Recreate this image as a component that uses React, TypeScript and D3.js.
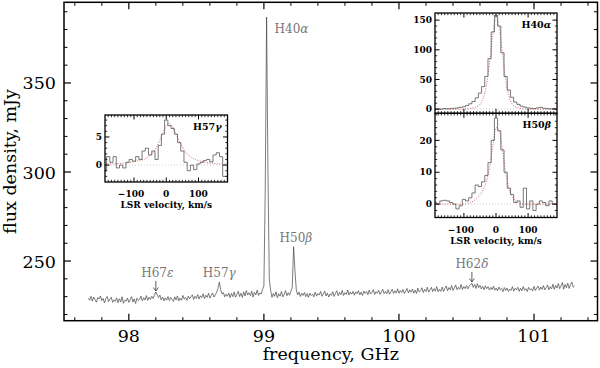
import React from "react";
import * as d3 from "d3";

// main spectrum: flux density (mJy) per 0.01 GHz channel starting at 97.70 GHz
const spectrumStart = 97.7;
const spectrumStep = 0.01;
const spectrumFlux = [
  229.1, 228.0, 230.2, 227.5, 229.8, 228.3, 226.9, 229.5, 228.7, 230.4, 227.8, 229.0, 226.5, 228.9, 230.1, 227.2, 228.6, 229.7, 226.8, 228.2,
  227.4, 229.3, 226.6, 228.8, 227.1, 229.9, 226.3, 228.0, 227.5, 229.2, 226.8, 228.4, 230.0, 227.0, 228.7, 226.2, 229.1, 227.9, 228.5, 230.3,
  227.6, 229.4, 228.1, 230.6, 227.9, 229.7, 228.4, 230.2, 229.0, 230.8, 232.6, 231.0, 229.5, 230.9, 228.2, 229.8, 227.6, 229.3, 228.0, 230.1,
  227.8, 229.6, 228.5, 227.3, 229.9, 228.1, 230.4, 227.6, 229.2, 228.0, 230.7, 228.6, 229.5, 227.9, 230.3, 228.8, 229.9, 231.0, 228.4, 230.2,
  229.0, 231.2, 228.7, 230.5, 229.4, 231.6, 228.9, 230.8, 229.6, 231.9, 229.2, 230.6, 232.1, 229.8, 231.0, 232.4, 234.6, 238.2, 233.9, 231.5,
  232.3, 229.9, 231.4, 230.2, 232.0, 229.5, 231.8, 230.0, 232.6, 229.7, 231.3, 233.0, 230.1, 231.9, 229.6, 232.7, 230.4, 233.4, 230.9, 232.2,
  230.6, 233.1, 229.8, 232.4, 231.0, 233.6, 230.7, 232.1, 231.5, 234.0, 236.0, 290.0, 387.0, 300.0, 240.0, 233.5, 229.6, 231.8, 230.2, 232.7,
  229.4, 231.6, 230.3, 232.9, 229.9, 231.2, 233.4, 230.5, 232.2, 230.8, 233.0, 235.1, 258.0, 244.5, 233.8, 231.0, 232.6, 230.1, 231.9, 230.7,
  232.3, 230.0, 231.7, 229.6, 232.0, 230.6, 231.4, 229.9, 232.5, 230.3, 231.8, 230.9, 232.9, 230.2, 231.5, 233.1, 230.4, 232.0, 229.8, 231.6,
  230.7, 232.8, 230.1, 231.9, 233.3, 230.5, 232.4, 231.0, 233.5, 230.6, 232.2, 231.3, 233.8, 230.9, 232.6, 231.4, 233.0, 230.8, 232.7, 231.6,
  233.4, 231.0, 232.5, 230.7, 233.2, 231.8, 232.9, 231.1, 233.7, 231.5, 232.3, 234.0, 231.2, 232.8, 231.9, 233.6, 231.3, 232.6, 234.1, 231.7,
  233.0, 231.6, 233.9, 231.4, 232.7, 234.2, 231.8, 233.3, 232.0, 234.4, 231.9, 233.5, 232.3, 234.0, 231.7, 233.2, 234.6, 232.1, 233.8, 232.5,
  234.3, 232.0, 233.6, 231.8, 234.8, 232.6, 233.4, 235.0, 232.3, 234.1, 232.9, 235.3, 232.5, 233.9, 235.2, 232.8, 234.5, 233.1, 235.6, 232.7,
  234.2, 233.0, 235.4, 232.9, 234.7, 236.0, 233.3, 235.1, 233.8, 236.3, 233.5, 234.9, 236.6, 233.9, 235.3, 234.2, 236.8, 234.0, 235.7, 234.5,
  236.2, 234.4, 235.9, 236.8, 237.6, 235.2, 236.9, 234.6, 237.3, 235.0, 236.4, 234.3, 235.8, 233.9, 236.1, 234.5, 235.6, 233.7, 235.2, 234.0,
  235.9, 233.6, 234.8, 233.2, 235.4, 233.9, 234.6, 232.8, 235.1, 233.4, 234.9, 232.9, 234.3, 233.5, 235.6, 233.1, 234.7, 233.8, 235.3, 233.0,
  234.8, 233.3, 235.7, 233.6, 234.5, 232.9, 235.2, 233.9, 234.4, 233.2, 235.8, 233.5, 234.9, 236.0, 233.7, 235.4, 234.1, 236.2, 233.8, 235.0,
  236.5, 233.9, 235.6, 234.3, 237.0, 234.1, 236.3, 234.8, 237.4, 234.5, 236.1, 238.0, 234.2, 236.9, 235.0, 237.6, 234.6, 236.7, 238.2, 235.3,
  236.0,
];

// recombination lines marked on the spectrum
const lineNames = ["H40", "H50", "H57", "H67", "H62"];
const lineGreek = ["α", "β", "γ", "ε", "δ"];
const lineFreqs = [99.02, 99.22, 98.67, 98.2, 100.54];

// inset profiles, 10 km/s channels from -190 to 190 km/s
const velocities = d3.range(-190, 191, 10);
const h57gObs = [-1.0, 1.5, 0.5, 1.5, -0.5, 0.0, -0.5, 0.5, 1.0, 0.7, 1.5, 1.0, 2.5, 3.0, 1.8, 2.5, 1.0, 3.5, 5.5, 8.0, 7.0, 6.5, 5.5, 4.0, 2.5, 0.5, -1.0, 0.0, -0.8, 0.2, 0.5, 0.8, 1.0, 0.6, 1.8, 2.2, 1.5, -2.0, -2.0];
const h57gModel = [0.2, 0.2, 0.2, 0.25, 0.3, 0.3, 0.35, 0.4, 0.5, 0.6, 0.7, 0.85, 1.0, 1.3, 1.7, 2.3, 3.2, 4.4, 5.8, 7.0, 7.4, 6.8, 5.6, 4.3, 3.2, 2.3, 1.7, 1.3, 1.0, 0.8, 0.65, 0.5, 0.4, 0.35, 0.3, 0.25, 0.2, 0.2, 0.2];
const h40aObs = [0, 0.5, 0, 1, 0.5, 1, 1.5, 2, 3, 4, 6, 9, 13, 19, 27, 38, 55, 85, 130, 158, 140, 95, 55, 32, 20, 12, 8, 5, 3.5, 2, 1.5, 1, 2, 3, 1.5, 1, 0.5, 1, 0.5];
const h40aModel = [0, 0, 0, 0, 0, 0, 0, 0, 0, 0.2, 0.5, 1, 2, 4, 8, 18, 40, 78, 125, 152, 138, 95, 50, 22, 9, 4, 2, 1, 0.5, 0.2, 0, 0, 0, 0, 0, 0, 0, 0, 0];
const h50bObs = [0.5, 0, 1, 1.2, 1, 0.5, 0, -1.5, -0.5, 1.5, 1, 2, 3.5, 6, 5.5, 7, 9, 13, 20, 27, 23, 17, 10, 5, 3, 0.5, 1, -1, 5, -1.5, 1, -2, 0, 1, 0.5, -0.5, 1, 0, 0];
const h50bModel = [0, 0, 0, 0, 0, 0, 0, 0, 0, 0, 0.2, 0.5, 1, 1.8, 3, 4.5, 7, 11.5, 18, 24, 23, 17, 10, 5, 2.5, 1, 0.4, 0.1, 0, 0, 0, 0, 0, 0, 0, 0, 0, 0, 0];

const FONT = "'DejaVu Serif', serif";
const fmt = (v: number) => (v < 0 ? "\u2212" + Math.abs(v) : String(v));

type InsetProps = {
  id: string;
  x0: number; x1: number; y0: number; y1: number;
  yDomain: [number, number];
  yMajor: number[];
  yMinor: number[];
  obs: number[];
  model: number[];
  label: string;
  greek: string;
  showX: boolean;
};

function Inset({ id, x0, x1, y0, y1, yDomain, yMajor, yMinor, obs, model, label, greek, showX }: InsetProps) {
  const vx = d3.scaleLinear().domain([-190, 190]).range([x0, x1]);
  const vy = d3.scaleLinear().domain(yDomain).range([y1, y0]);
  const step = d3.line<number>().x((d, i) => vx(velocities[i])).y(d => vy(d)).curve(d3.curveStep);
  const smooth = d3.line<number>().x((d, i) => vx(velocities[i])).y(d => vy(d)).curve(d3.curveMonotoneX);
  const xMajor = [-100, 0, 100];
  const xMinor = d3.range(-180, 181, 10).filter(v => !xMajor.includes(v));

  return (
    <g>
      <defs>
        <clipPath id={id}>
          <rect x={x0} y={y0} width={x1 - x0} height={y1 - y0} />
        </clipPath>
      </defs>
      <rect x={x0} y={y0} width={x1 - x0} height={y1 - y0} fill="#fff" />
      <g clipPath={`url(#${id})`}>
        <line x1={x0} x2={x1} y1={vy(0)} y2={vy(0)} stroke="#aaa" strokeWidth={0.6} strokeDasharray="1,2" />
        <path d={smooth(model) || ""} fill="none" stroke="#d04040" strokeWidth={0.8} strokeDasharray="1,1.5" />
        <path d={step(obs) || ""} fill="none" stroke="#555" strokeWidth={0.8} />
      </g>
      {xMajor.map(v => (
        <g key={"xM" + v}>
          <line x1={vx(v)} x2={vx(v)} y1={y1} y2={y1 - 4.5} stroke="#000" strokeWidth={1} />
          <line x1={vx(v)} x2={vx(v)} y1={y0} y2={y0 + 4.5} stroke="#000" strokeWidth={1} />
        </g>
      ))}
      {xMinor.map(v => (
        <g key={"xm" + v}>
          <line x1={vx(v)} x2={vx(v)} y1={y1} y2={y1 - 2.2} stroke="#000" strokeWidth={0.8} />
          <line x1={vx(v)} x2={vx(v)} y1={y0} y2={y0 + 2.2} stroke="#000" strokeWidth={0.8} />
        </g>
      ))}
      {yMajor.map(v => (
        <g key={"yM" + v}>
          <line x1={x0} x2={x0 + 4.5} y1={vy(v)} y2={vy(v)} stroke="#000" strokeWidth={1} />
          <line x1={x1} x2={x1 - 4.5} y1={vy(v)} y2={vy(v)} stroke="#000" strokeWidth={1} />
          <text x={x0 - 3} y={vy(v) + 3.2} textAnchor="end" fontSize={9} fontWeight="bold" fontFamily={FONT}>{fmt(v)}</text>
        </g>
      ))}
      {yMinor.map(v => (
        <g key={"ym" + v}>
          <line x1={x0} x2={x0 + 2.2} y1={vy(v)} y2={vy(v)} stroke="#000" strokeWidth={0.8} />
          <line x1={x1} x2={x1 - 2.2} y1={vy(v)} y2={vy(v)} stroke="#000" strokeWidth={0.8} />
        </g>
      ))}
      <rect x={x0} y={y0} width={x1 - x0} height={y1 - y0} fill="none" stroke="#000" strokeWidth={1.3} />
      <text x={x1 - 6} y={y0 + 15} textAnchor="end" fontSize={9.5} fontWeight="bold" fontFamily={FONT}>
        {label}<tspan fontStyle="italic">{greek}</tspan>
      </text>
      {showX && (
        <g fontFamily={FONT} fontWeight="bold" fontSize={9}>
          {xMajor.map(v => (
            <text key={"xl" + v} x={vx(v) - (v < 0 ? 3 : 0)} y={y1 + 15} textAnchor="middle">{fmt(v)}</text>
          ))}
          <text x={(x0 + x1) / 2} y={y1 + 26} textAnchor="middle">LSR velocity, km/s</text>
        </g>
      )}
    </g>
  );
}

export default function App() {
  const W = 600, H = 368;
  const x = d3.scaleLinear().domain([97.52, 101.47]).range([64, 597.5]);
  const y = d3.scaleLinear().domain([216.5, 395.3]).range([320.7, 2.3]);
  const [left, right] = x.range();
  const [bottom, top] = y.range();

  const freqs = spectrumFlux.map((_, i) => spectrumStart + i * spectrumStep);
  const spectrum = d3.line<number>().x((d, i) => x(freqs[i])).y(d => y(d));

  const xMajor = [98, 99, 100, 101];
  const xMinor = d3.range(97.6, 101.45, 0.2).map(v => +v.toFixed(1)).filter(v => !xMajor.includes(v));
  const yMajor = [250, 300, 350];
  const yMinor = d3.range(220, 395, 10).filter(v => !yMajor.includes(v));

  // label placement (pixel offsets from the line position)
  const labelPos = [
    { dx: 8, y: 33, anchor: "start" },
    { dx: -14, y: 242, anchor: "start" },
    { dx: 0, y: 277, anchor: "middle" },
    { dx: 1.5, y: 277, anchor: "middle" },
    { dx: 0, y: 268, anchor: "middle" },
  ];
  const arrows = [3, 4];

  return (
    <div style={{ position: "absolute", left: 0, top: 0 }}>
      <svg width={W} height={H} style={{ display: "block", background: "#fff" }}>
        <path d={spectrum(spectrumFlux) || ""} fill="none" stroke="#444" strokeWidth={0.7} />

        {lineNames.map((n, i) => (
          <text key={n} x={x(lineFreqs[i]) + labelPos[i].dx} y={labelPos[i].y} textAnchor={labelPos[i].anchor as any}
            fontSize={12} fontFamily={FONT} fill="#777">
            {n}<tspan fontStyle="italic">{lineGreek[i]}</tspan>
          </text>
        ))}
        {arrows.map(i => {
          const ax = x(lineFreqs[i]);
          const y0 = labelPos[i].y + 4;
          const y1 = y0 + 10;
          return (
            <g key={"arr" + i} stroke="#333" strokeWidth={0.8} fill="none">
              <line x1={ax} x2={ax} y1={y0} y2={y1} />
              <path d={`M${ax - 2.5},${y1 - 3.5}L${ax},${y1}L${ax + 2.5},${y1 - 3.5}`} />
            </g>
          );
        })}

        {xMajor.map(v => (
          <g key={"xM" + v}>
            <line x1={x(v)} x2={x(v)} y1={bottom} y2={bottom - 7} stroke="#000" strokeWidth={1.2} />
            <line x1={x(v)} x2={x(v)} y1={top} y2={top + 7} stroke="#000" strokeWidth={1.2} />
            <text x={x(v)} y={bottom + 21} textAnchor="middle" fontSize={17.5} fontFamily={FONT}>{v}</text>
          </g>
        ))}
        {xMinor.map(v => (
          <g key={"xm" + v}>
            <line x1={x(v)} x2={x(v)} y1={bottom} y2={bottom - 3.5} stroke="#000" strokeWidth={1} />
            <line x1={x(v)} x2={x(v)} y1={top} y2={top + 3.5} stroke="#000" strokeWidth={1} />
          </g>
        ))}
        {yMajor.map(v => (
          <g key={"yM" + v}>
            <line x1={left} x2={left + 7} y1={y(v)} y2={y(v)} stroke="#000" strokeWidth={1.2} />
            <line x1={right} x2={right - 7} y1={y(v)} y2={y(v)} stroke="#000" strokeWidth={1.2} />
            <text x={56} y={y(v) + 6.5} textAnchor="end" fontSize={17.5} fontFamily={FONT}>{v}</text>
          </g>
        ))}
        {yMinor.map(v => (
          <g key={"ym" + v}>
            <line x1={left} x2={left + 3.5} y1={y(v)} y2={y(v)} stroke="#000" strokeWidth={1} />
            <line x1={right} x2={right - 3.5} y1={y(v)} y2={y(v)} stroke="#000" strokeWidth={1} />
          </g>
        ))}
        <rect x={left} y={top} width={right - left} height={bottom - top} fill="none" stroke="#000" strokeWidth={1.5} />

        <text x={(left + right) / 2} y={360} textAnchor="middle" fontSize={17.5} fontFamily={FONT}>frequency, GHz</text>
        <text transform={`translate(16,${(top + bottom) / 2}) rotate(-90)`} textAnchor="middle" fontSize={17.5} fontFamily={FONT}>flux density, mJy</text>

        <Inset id="cl57" x0={105} x1={227.5} y0={115} y1={182} yDomain={[-3, 8.9]}
          yMajor={[0, 5]} yMinor={[-2, -1, 1, 2, 3, 4, 6, 7, 8]}
          obs={h57gObs} model={h57gModel} label="H57" greek="γ" showX={true} />
        <Inset id="cl40" x0={435} x1={557} y0={13} y1={113.3} yDomain={[-7, 162]}
          yMajor={[0, 50, 100, 150]} yMinor={[10, 20, 30, 40, 60, 70, 80, 90, 110, 120, 130, 140]}
          obs={h40aObs} model={h40aModel} label="H40" greek="α" showX={false} />
        <Inset id="cl50" x0={435} x1={557} y0={113.3} y1={217.5} yDomain={[-4.2, 28.5]}
          yMajor={[0, 10, 20]} yMinor={[-2, 2, 4, 6, 8, 12, 14, 16, 18, 22, 24, 26, 28]}
          obs={h50bObs} model={h50bModel} label="H50" greek="β" showX={true} />
      </svg>
    </div>
  );
}
